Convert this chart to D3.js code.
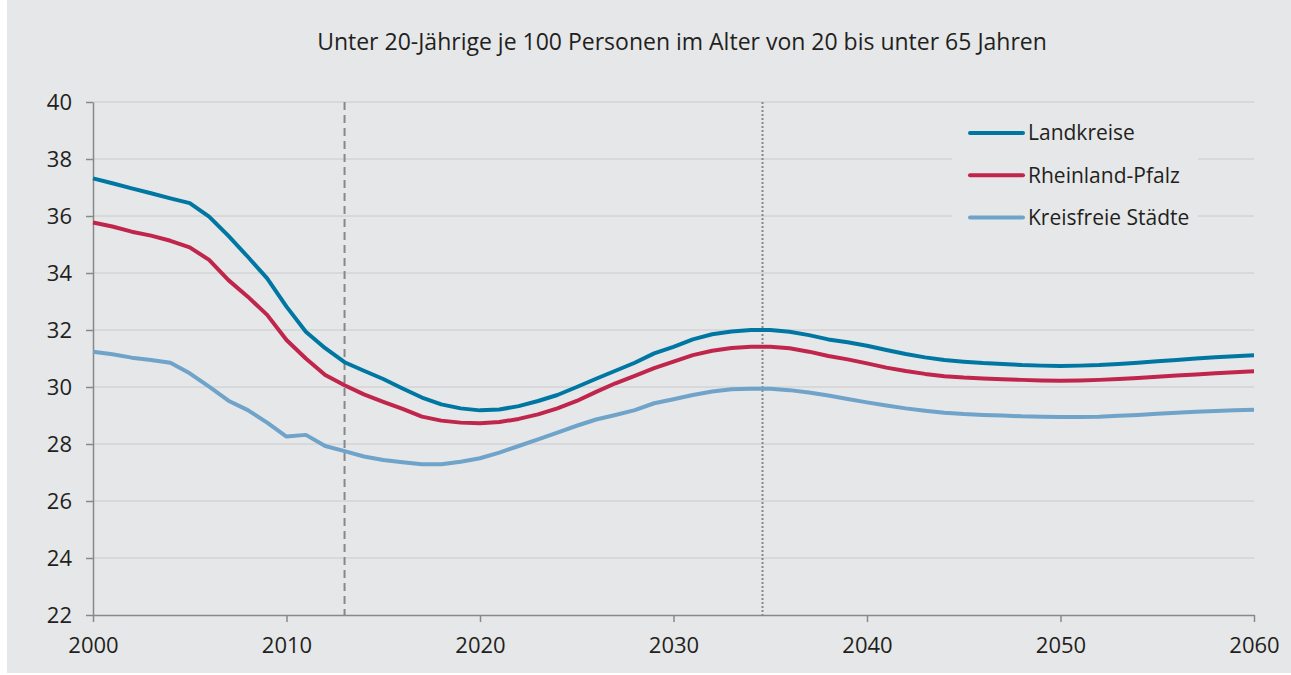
<!DOCTYPE html>
<html>
<head>
	<meta charset="utf-8">
	<title>Jugendquotient</title>
	<script src="https://cdn.jsdelivr.net/npm/d3@7"></script>
</head>
<style type="text/css">
body { margin: 0; background: #fff; }
svg text { font-family: "Open Sans", "Noto Sans", sans-serif; fill: #231f20; }
</style>
<body>
</body>
<script type="text/javascript">
	// jahre 2000 bis 2060
	var years = d3.range(2000, 2061);
	var seriesNames = ["Landkreise", "Rheinland-Pfalz", "Kreisfreie Städte"];
	var seriesColors = ["#0077a3", "#c0254b", "#6fa3ca"];

	var landkreise = [37.32, 37.15, 36.97, 36.80, 36.62, 36.45, 35.98, 35.30, 34.57, 33.81,
		32.82, 31.94, 31.36, 30.87, 30.57, 30.28, 29.95, 29.63, 29.39, 29.25,
		29.18, 29.21, 29.33, 29.51, 29.72, 30.00, 30.29, 30.57, 30.85, 31.18,
		31.41, 31.67, 31.85, 31.95, 32.00, 32.00, 31.94, 31.82, 31.67, 31.57,
		31.45, 31.30, 31.16, 31.04, 30.95, 30.89, 30.84, 30.81, 30.77, 30.75,
		30.74, 30.75, 30.77, 30.81, 30.85, 30.90, 30.95, 31.00, 31.04, 31.08, 31.11];
	var rlp = [35.77, 35.63, 35.45, 35.31, 35.13, 34.90, 34.46, 33.75, 33.17, 32.53,
		31.65, 31.00, 30.42, 30.06, 29.74, 29.48, 29.23, 28.96, 28.82, 28.75,
		28.73, 28.77, 28.88, 29.04, 29.25, 29.51, 29.83, 30.13, 30.39, 30.66,
		30.89, 31.12, 31.27, 31.37, 31.41, 31.41, 31.36, 31.24, 31.09, 30.97,
		30.83, 30.68, 30.56, 30.46, 30.38, 30.33, 30.30, 30.27, 30.25, 30.23,
		30.22, 30.23, 30.25, 30.28, 30.32, 30.36, 30.40, 30.44, 30.48, 30.52, 30.55];
	var kreisfrei = [31.24, 31.15, 31.03, 30.95, 30.85, 30.48, 30.01, 29.52, 29.19, 28.75,
		28.26, 28.32, 27.93, 27.75, 27.56, 27.44, 27.36, 27.29, 27.29, 27.38,
		27.50, 27.70, 27.93, 28.16, 28.40, 28.64, 28.86, 29.02, 29.19, 29.43,
		29.57, 29.72, 29.84, 29.92, 29.94, 29.94, 29.89, 29.81, 29.70, 29.58,
		29.46, 29.35, 29.25, 29.17, 29.10, 29.05, 29.02, 29.00, 28.97, 28.96,
		28.95, 28.95, 28.96, 28.99, 29.02, 29.06, 29.10, 29.13, 29.16, 29.18, 29.20];

	var xTicks = [2000, 2010, 2020, 2030, 2040, 2050, 2060];
	var yTicks = [22, 24, 26, 28, 30, 32, 34, 36, 38, 40];
	var markerYears = [2013, 2034.6]; // gestrichelt, gepunktet

	var w = 1291, h = 675;
	var svg = d3.select("body").append("svg").attr("width", w).attr("height", h);

	svg.append("rect").attr("x", 7).attr("y", 0).attr("width", w - 7).attr("height", 673).attr("fill", "#e6e7e9");

	var x = d3.scaleLinear().domain([2000, 2060]).range([93, 1254]);
	var y = d3.scaleLinear().domain([22, 40]).range([615, 102]);

	svg.append("text").attr("x", 682).attr("y", 50).attr("text-anchor", "middle")
		.style("font-size", "23px")
		.text("Unter 20-Jährige je 100 Personen im Alter von 20 bis unter 65 Jahren");

	// gitterlinien
	svg.append("g").selectAll("line").data(yTicks.slice(1)).enter().append("line")
		.attr("x1", x(2000)).attr("x2", x(2060))
		.attr("y1", function(d){return y(d)}).attr("y2", function(d){return y(d)})
		.attr("stroke", "#c9cacc").attr("stroke-width", 1);

	// achsen
	var yAxis = svg.append("g").attr("transform", "translate(" + x(2000) + ",0)")
		.call(d3.axisLeft(y).tickValues(yTicks).tickSize(7).tickPadding(14).tickSizeOuter(0));
	var xAxis = svg.append("g").attr("transform", "translate(0," + y(22) + ")")
		.call(d3.axisBottom(x).tickValues(xTicks).tickFormat(d3.format("d")).tickSize(7).tickPadding(15).tickSizeOuter(0));
	[yAxis, xAxis].forEach(function(a){
		a.select(".domain").attr("stroke", "#87888a").attr("stroke-width", 1.5);
		a.selectAll(".tick line").attr("stroke", "#87888a").attr("stroke-width", 1.5);
		a.selectAll(".tick text").style("font-size", "22px").attr("fill", "#231f20")
			.style("font-family", "'Open Sans', 'Noto Sans', sans-serif");
	});
	yAxis.selectAll(".tick text").attr("dy", "0.34em");

	// senkrechte markierungen
	svg.append("line").attr("x1", x(markerYears[0])).attr("x2", x(markerYears[0]))
		.attr("y1", y(40)).attr("y2", y(22))
		.attr("stroke", "#87888a").attr("stroke-width", 2).attr("stroke-dasharray", "8,5");
	svg.append("line").attr("x1", x(markerYears[1])).attr("x2", x(markerYears[1]))
		.attr("y1", y(40)).attr("y2", y(22))
		.attr("stroke", "#87888a").attr("stroke-width", 2).attr("stroke-dasharray", "2,2");

	// legendenhintergrund
	svg.append("rect").attr("x", 952).attr("y", 112).attr("width", 246).attr("height", 150).attr("fill", "#e6e7e9");

	var data = [landkreise, rlp, kreisfrei];
	var line = d3.line()
		.x(function(d,i){return x(years[i])})
		.y(function(d){return y(d)});

	svg.append("g").selectAll("path").data(data.slice().reverse()).enter().append("path")
		.attr("d", line)
		.attr("fill", "none")
		.attr("stroke", function(d,i){return seriesColors[2 - i]})
		.attr("stroke-width", 4)
		.attr("stroke-linejoin", "round");

	var legend = svg.append("g").selectAll("g").data(seriesNames).enter().append("g")
		.attr("transform", function(d,i){return "translate(970," + (133 + i * 42.3) + ")"});
	legend.append("line").attr("x1", 0).attr("x2", 53)
		.attr("stroke", function(d,i){return seriesColors[i]})
		.attr("stroke-width", 4).attr("stroke-linecap", "round");
	legend.append("text").attr("x", 58).attr("dy", "0.35em")
		.style("font-size", "21px").text(function(d){return d});
</script>
</html>
